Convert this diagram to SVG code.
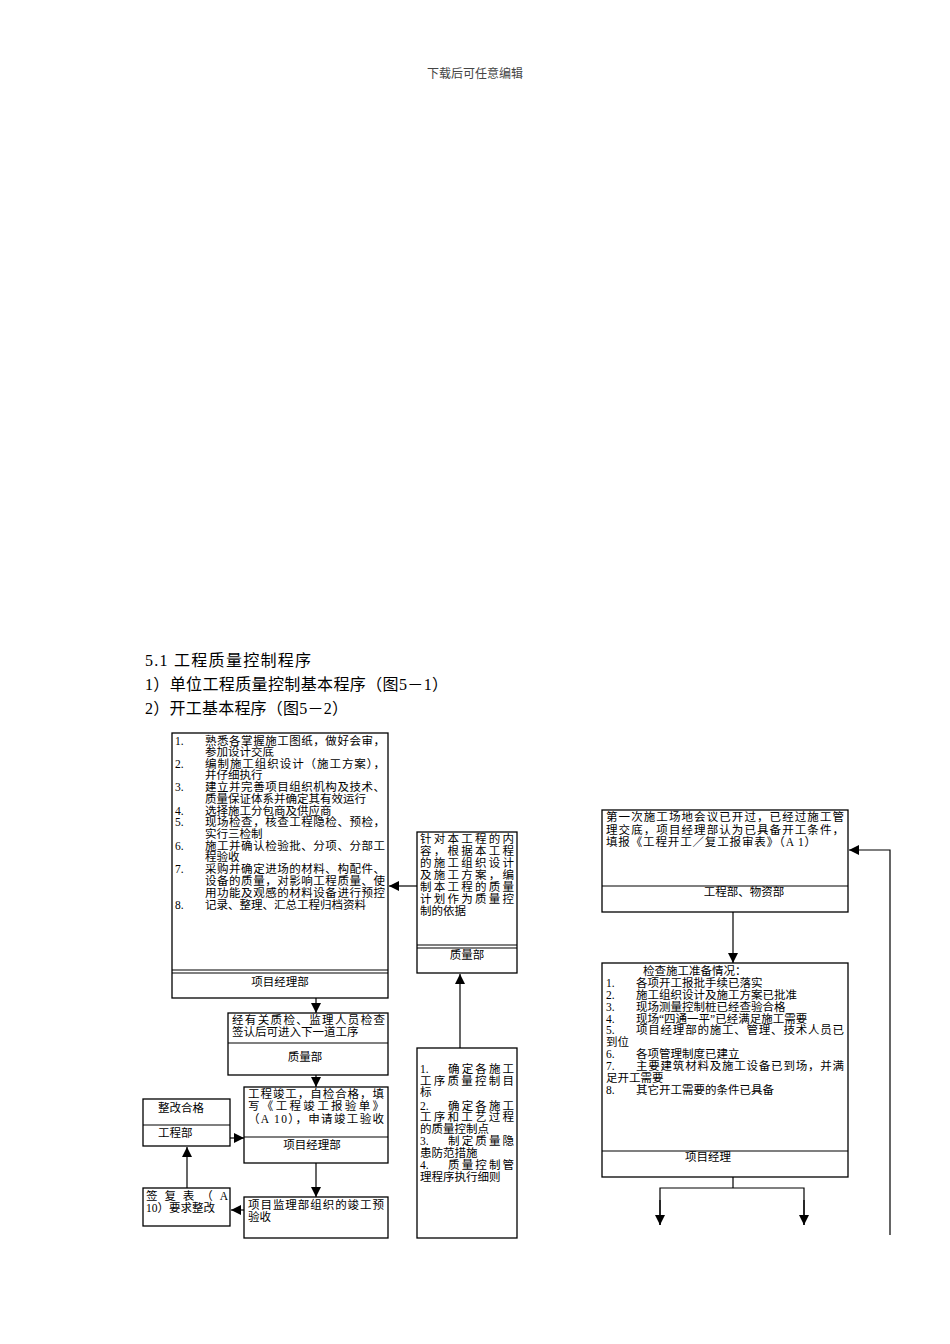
<svg xmlns="http://www.w3.org/2000/svg" width="950" height="1344" viewBox="0 0 950 1344">
<style>
.bx{fill:#fff;stroke:#000;stroke-width:1.3}
.ln{stroke:#000;stroke-width:1.2;fill:none}
.t{font-family:"Liberation Serif","Noto Sans CJK SC",serif;font-size:11.5px;fill:#000}
.tc{font-family:"Liberation Serif","Noto Sans CJK SC",serif;font-size:11.5px;fill:#000;text-anchor:middle}
.h{font-family:"Liberation Serif","Noto Sans CJK SC",serif;font-size:16px;fill:#000}
.c{stroke:#000;stroke-width:1.2;fill:none}
</style>
<defs>
<marker id="ah" markerUnits="userSpaceOnUse" markerWidth="10" markerHeight="10" refX="10" refY="5" orient="auto" viewBox="0 0 10 10">
<path d="M0,0 L10,5 L0,10 z" fill="#000"/>
</marker>
</defs>
<rect width="950" height="1344" fill="#fff"/>
<text x="475" y="78" text-anchor="middle" style="font-family:'Liberation Serif','Noto Sans CJK SC',serif;font-size:12px;fill:#444">下载后可任意编辑</text>
<g id="titles">
<text class="h" x="145" y="666" textLength="166" lengthAdjust="spacing">5.1 工程质量控制程序</text>
<text class="h" x="145" y="690" textLength="303" lengthAdjust="spacing">1）单位工程质量控制基本程序（图5－1）</text>
<text class="h" x="145" y="714" textLength="203" lengthAdjust="spacing">2）开工基本程序（图5－2）</text>
</g>
<g id="n_left_main">
<rect class="bx" x="172" y="733" width="216" height="265"/>
<line class="ln" x1="172" y1="970" x2="388" y2="970"/>
<line class="ln" x1="172" y1="973" x2="388" y2="973"/>
<text class="t" x="175" y="745">1.</text><text class="t" x="205" y="745" textLength="180" lengthAdjust="spacing">熟悉各掌握施工图纸，做好会审，</text>
<text class="t" x="205" y="756">参加设计交底</text>
<text class="t" x="175" y="768">2.</text><text class="t" x="205" y="768" textLength="180" lengthAdjust="spacing">编制施工组织设计（施工方案），</text>
<text class="t" x="205" y="779">并仔细执行</text>
<text class="t" x="175" y="791">3.</text><text class="t" x="205" y="791" textLength="180" lengthAdjust="spacing">建立并完善项目组织机构及技术、</text>
<text class="t" x="205" y="803">质量保证体系并确定其有效运行</text>
<text class="t" x="175" y="815">4.</text><text class="t" x="205" y="815">选择施工分包商及供应商</text>
<text class="t" x="175" y="826">5.</text><text class="t" x="205" y="826" textLength="180" lengthAdjust="spacing">现场检查，核查工程隐检、预检，</text>
<text class="t" x="205" y="838">实行三检制</text>
<text class="t" x="175" y="850">6.</text><text class="t" x="205" y="850" textLength="180" lengthAdjust="spacing">施工并确认检验批、分项、分部工</text>
<text class="t" x="205" y="861">程验收</text>
<text class="t" x="175" y="873">7.</text><text class="t" x="205" y="873" textLength="180" lengthAdjust="spacing">采购并确定进场的材料、构配件、</text>
<text class="t" x="205" y="885" textLength="180" lengthAdjust="spacing">设备的质量，对影响工程质量、使</text>
<text class="t" x="205" y="897" textLength="180" lengthAdjust="spacing">用功能及观感的材料设备进行预控</text>
<text class="t" x="175" y="909">8.</text><text class="t" x="205" y="909">记录、整理、汇总工程归档资料</text>
<text class="tc" x="280" y="986">项目经理部</text>
</g>
<g id="n_quality_plan">
<rect class="bx" x="417" y="832" width="100" height="141"/>
<line class="ln" x1="417" y1="945" x2="517" y2="945"/>
<line class="ln" x1="417" y1="948" x2="517" y2="948"/>
<text class="t" x="420" y="843" textLength="94" lengthAdjust="spacing">针对本工程的内</text>
<text class="t" x="420" y="855" textLength="94" lengthAdjust="spacing">容，根据本工程</text>
<text class="t" x="420" y="867" textLength="94" lengthAdjust="spacing">的施工组织设计</text>
<text class="t" x="420" y="879" textLength="94" lengthAdjust="spacing">及施工方案，编</text>
<text class="t" x="420" y="891" textLength="94" lengthAdjust="spacing">制本工程的质量</text>
<text class="t" x="420" y="903" textLength="94" lengthAdjust="spacing">计划作为质量控</text>
<text class="t" x="420" y="915">制的依据</text>
<text class="tc" x="467" y="959">质量部</text>
</g>
<g id="n_control_points">
<rect class="bx" x="417" y="1048" width="100" height="190"/>
<text class="t" x="420" y="1073">1.</text><text class="t" x="448" y="1073" textLength="66" lengthAdjust="spacing">确定各施工</text>
<text class="t" x="420" y="1085" textLength="94" lengthAdjust="spacing">工序质量控制目</text>
<text class="t" x="420" y="1096">标</text>
<text class="t" x="420" y="1110">2.</text><text class="t" x="448" y="1110" textLength="66" lengthAdjust="spacing">确定各施工</text>
<text class="t" x="420" y="1121" textLength="94" lengthAdjust="spacing">工序和工艺过程</text>
<text class="t" x="420" y="1133">的质量控制点</text>
<text class="t" x="420" y="1145">3.</text><text class="t" x="448" y="1145" textLength="66" lengthAdjust="spacing">制定质量隐</text>
<text class="t" x="420" y="1157">患防范措施</text>
<text class="t" x="420" y="1169">4.</text><text class="t" x="448" y="1169" textLength="66" lengthAdjust="spacing">质量控制管</text>
<text class="t" x="420" y="1181">理程序执行细则</text>
</g>
<g id="n_inspect">
<rect class="bx" x="228" y="1013" width="160" height="62"/>
<line class="ln" x1="228" y1="1043" x2="388" y2="1043"/>
<text class="t" x="232" y="1024" textLength="153" lengthAdjust="spacing">经有关质检、监理人员检查</text>
<text class="t" x="232" y="1036">签认后可进入下一道工序</text>
<text class="tc" x="305" y="1061">质量部</text>
</g>
<g id="n_complete">
<rect class="bx" x="244" y="1087" width="144" height="76"/>
<line class="ln" x1="244" y1="1137" x2="388" y2="1137"/>
<text class="t" x="248" y="1098" textLength="136" lengthAdjust="spacing">工程竣工，自检合格，填</text>
<text class="t" x="248" y="1110" textLength="136" lengthAdjust="spacing">写《工程竣工报验单》</text>
<text class="t" x="248" y="1123" textLength="136" lengthAdjust="spacing">（A 10），申请竣工验收</text>
<text class="tc" x="312" y="1149">项目经理部</text>
</g>
<g id="n_preaccept">
<rect class="bx" x="244" y="1197" width="144" height="41"/>
<text class="t" x="248" y="1209" textLength="136" lengthAdjust="spacing">项目监理部组织的竣工预</text>
<text class="t" x="248" y="1221">验收</text>
</g>
<g id="n_sign">
<rect class="bx" x="143" y="1188" width="87" height="38"/>
<text class="t" x="146" y="1200" textLength="82" lengthAdjust="spacing">签复表（A</text>
<text class="t" x="146" y="1212">10）要求整改</text>
</g>
<g id="n_rectified">
<rect class="bx" x="143" y="1099" width="87" height="47"/>
<line class="ln" x1="143" y1="1125" x2="230" y2="1125"/>
<text class="t" x="158" y="1112">整改合格</text>
<text class="t" x="158" y="1137">工程部</text>
</g>
<g id="n_first_meeting">
<rect class="bx" x="602" y="810" width="246" height="102"/>
<line class="ln" x1="602" y1="886" x2="848" y2="886"/>
<text class="t" x="606" y="821" textLength="238" lengthAdjust="spacing">第一次施工场地会议已开过，已经过施工管</text>
<text class="t" x="606" y="834" textLength="238" lengthAdjust="spacing">理交底，项目经理部认为已具备开工条件，</text>
<text class="t" x="606" y="846" textLength="210" lengthAdjust="spacing">填报《工程开工／复工报审表》（A 1）</text>
<text class="tc" x="744" y="896">工程部、物资部</text>
</g>
<g id="n_check_prep">
<rect class="bx" x="602" y="963" width="246" height="214"/>
<line class="ln" x1="602" y1="1151" x2="848" y2="1151"/>
<text class="t" x="643" y="975">检查施工准备情况：</text>
<text class="t" x="606" y="987">1.</text><text class="t" x="636" y="987">各项开工报批手续已落实</text>
<text class="t" x="606" y="999">2.</text><text class="t" x="636" y="999">施工组织设计及施工方案已批准</text>
<text class="t" x="606" y="1011">3.</text><text class="t" x="636" y="1011">现场测量控制桩已经查验合格</text>
<text class="t" x="606" y="1023">4.</text><text class="t" x="636" y="1023">现场“四通一平”已经满足施工需要</text>
<text class="t" x="606" y="1034">5.</text><text class="t" x="636" y="1034" textLength="208" lengthAdjust="spacing">项目经理部的施工、管理、技术人员已</text>
<text class="t" x="606" y="1046">到位</text>
<text class="t" x="606" y="1058">6.</text><text class="t" x="636" y="1058">各项管理制度已建立</text>
<text class="t" x="606" y="1070">7.</text><text class="t" x="636" y="1070" textLength="208" lengthAdjust="spacing">主要建筑材料及施工设备已到场，并满</text>
<text class="t" x="606" y="1082">足开工需要</text>
<text class="t" x="606" y="1094">8.</text><text class="t" x="636" y="1094">其它开工需要的条件已具备</text>
<text class="tc" x="708" y="1161">项目经理</text>
</g>
<g id="connectors">
<line class="c" x1="417" y1="886" x2="389" y2="886" marker-end="url(#ah)"/>
<line class="c" x1="460" y1="1048" x2="460" y2="974" marker-end="url(#ah)"/>
<line class="c" x1="316" y1="998" x2="316" y2="1013" marker-end="url(#ah)"/>
<line class="c" x1="316" y1="1075" x2="316" y2="1087" marker-end="url(#ah)"/>
<line class="c" x1="316" y1="1163" x2="316" y2="1197" marker-end="url(#ah)"/>
<line class="c" x1="244" y1="1210" x2="231" y2="1210" marker-end="url(#ah)"/>
<line class="c" x1="187" y1="1188" x2="187" y2="1147" marker-end="url(#ah)"/>
<line class="c" x1="230" y1="1138" x2="244" y2="1138" marker-end="url(#ah)"/>
<line class="c" x1="733" y1="912" x2="733" y2="963" marker-end="url(#ah)"/>
<polyline class="c" points="890,1235 890,850 849,850" marker-end="url(#ah)"/>
<polyline class="c" points="660,1225 660,1188 804,1188 804,1225"/>
<line class="c" x1="733" y1="1177" x2="733" y2="1188"/>
<line class="c" x1="660" y1="1200" x2="660" y2="1225" marker-end="url(#ah)"/>
<line class="c" x1="804" y1="1200" x2="804" y2="1225" marker-end="url(#ah)"/>
</g>
</svg>
